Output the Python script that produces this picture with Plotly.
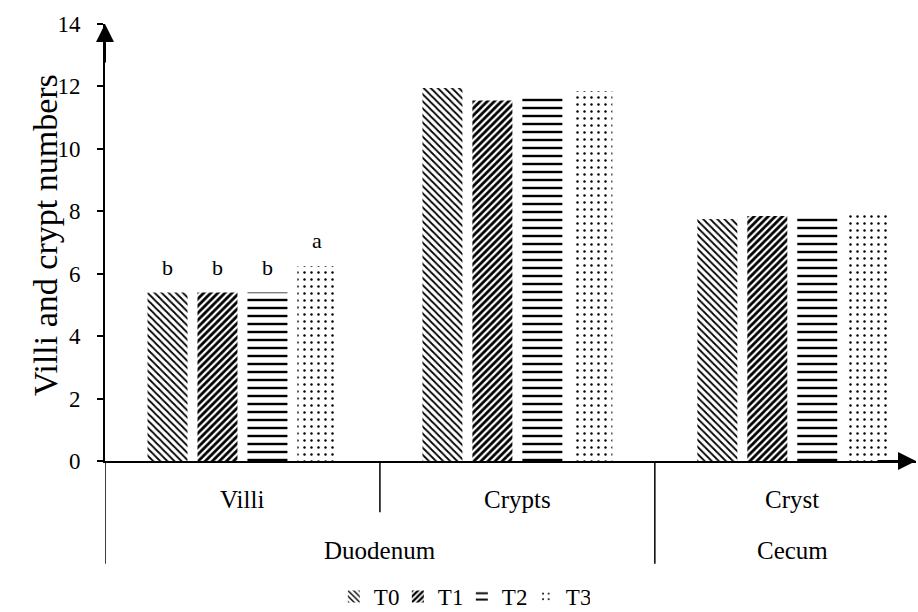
import plotly.graph_objects as go

categories = ["Villi", "Crypts", "Cryst"]
groups = ["Duodenum", "Cecum"]
group_spans = [(0, 1), (2, 2)]
series_names = ["T0", "T1", "T2", "T3"]
T0 = [5.4, 11.95, 7.75]
T1 = [5.4, 11.55, 7.85]
T2 = [5.4, 11.7, 7.85]
T3 = [6.25, 11.85, 7.9]
letters = [["b", "", ""], ["b", "", ""], ["b", "", ""], ["a", "", ""]]
y_ticks = [0, 2, 4, 6, 8, 10, 12, 14]
y_title = "Villi and crypt numbers"

FONT = "Liberation Serif"
series = [T0, T1, T2, T3]
patterns = [
    dict(shape="\\", size=5, solidity=0.35),
    dict(shape="/", size=5, solidity=0.55),
    dict(shape="-", size=8, solidity=0.3),
    dict(shape=".", size=7, solidity=0.1),
]

fig = go.Figure()
for name, vals, pat in zip(series_names, series, patterns):
    fig.add_trace(go.Bar(
        name=name, x=categories, y=vals,
        marker=dict(color="white", line=dict(width=0),
                    pattern=dict(fgcolor="black", bgcolor="white", fillmode="replace", **pat)),
    ))

annotations = []
# significance letters
offsets = [-75, -25, 25, 75]
for si, vals in enumerate(series):
    for ci, cat in enumerate(categories):
        t = letters[si][ci]
        if t:
            annotations.append(dict(x=cat, y=vals[ci], xref="x", yref="y", text=t,
                                    showarrow=False, xshift=offsets[si], yshift=25,
                                    xanchor="center", yanchor="middle",
                                    font=dict(family=FONT, size=22, color="black")))

# category labels
for ci, cat in enumerate(categories):
    annotations.append(dict(x=ci, y=-0.087, xref="x", yref="paper", text=cat, showarrow=False,
                            xanchor="center", yanchor="middle",
                            font=dict(family=FONT, size=25, color="black")))
for g, (a, b) in zip(groups, group_spans):
    annotations.append(dict(x=(a + b) / 2, y=-0.205, xref="x", yref="paper", text=g, showarrow=False,
                            xanchor="center", yanchor="middle",
                            font=dict(family=FONT, size=25, color="black")))

# y-axis title
annotations.append(dict(x=-0.074, y=0.517, xref="paper", yref="paper", text=y_title, textangle=-90,
                        showarrow=False, xanchor="center", yanchor="middle",
                        font=dict(family=FONT, size=34, color="black")))

# axis arrows
annotations.append(dict(x=0, y=1.0, xref="paper", yref="paper", ax=0, ay=40, axref="pixel", ayref="pixel",
                        text="", showarrow=True, arrowhead=2, arrowsize=1.8, arrowwidth=2, arrowcolor="black"))
annotations.append(dict(x=1.0, y=0, xref="paper", yref="paper", ax=-40, ay=0, axref="pixel", ayref="pixel",
                        text="", showarrow=True, arrowhead=2, arrowsize=1.8, arrowwidth=2, arrowcolor="black"))

shapes = []
# dividers
shapes.append(dict(type="line", xref="x", yref="paper", x0=-0.5, x1=-0.5, y0=0, y1=-0.235,
                   line=dict(color="black", width=1.5)))
shapes.append(dict(type="line", xref="x", yref="paper", x0=0.5, x1=0.5, y0=0, y1=-0.117,
                   line=dict(color="black", width=1.5)))
shapes.append(dict(type="line", xref="x", yref="paper", x0=1.5, x1=1.5, y0=0, y1=-0.235,
                   line=dict(color="black", width=1.5)))

fig.update_layout(
    width=918, height=612,
    margin=dict(l=105, r=2, t=24, b=151, autoexpand=False),
    paper_bgcolor="white", plot_bgcolor="white",
    barmode="group", bargap=0.273, bargroupgap=0.2,
    font=dict(family=FONT, color="black"),
    annotations=annotations, shapes=shapes,
    legend=dict(orientation="h", x=0.44, y=-0.31, xanchor="center", yanchor="middle",
                font=dict(family=FONT, size=23, color="black"), itemwidth=30, entrywidth=19,
                bgcolor="rgba(0,0,0,0)"),
    showlegend=True,
)
fig.update_xaxes(range=[-0.5, 2.45], showline=True, linecolor="black", linewidth=2, automargin=False,
                 showticklabels=False, ticks="", showgrid=False, zeroline=False)
fig.update_yaxes(range=[0, 14], tickvals=y_ticks, showline=True, linecolor="black", linewidth=2,
                 automargin=False,
                 ticks="outside", ticklen=6, tickcolor="black", tickwidth=1.5, showgrid=False, zeroline=False,
                 ticklabelstandoff=12, tickfont=dict(family=FONT, size=23, color="black"))

fig.write_html("out.html", config={"displayModeBar": False},
               post_script="document.body.style.margin='0';")
